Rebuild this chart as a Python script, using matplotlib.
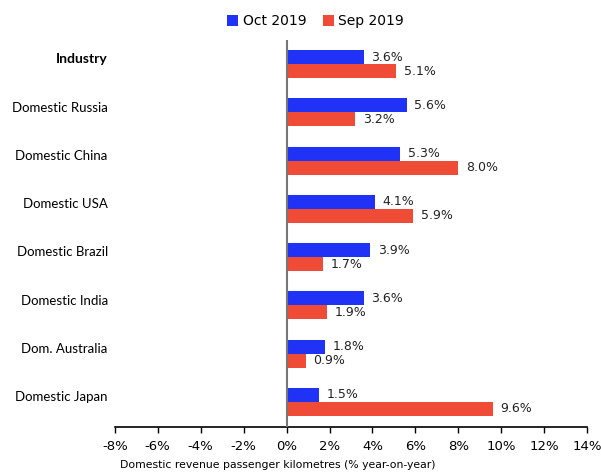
import numpy as np
import matplotlib.pyplot as plt

categories = ["Industry", "Domestic Russia", "Domestic China", "Domestic USA",
              "Domestic Brazil", "Domestic India", "Dom. Australia", "Domestic Japan"]
oct_2019 = [3.6, 5.6, 5.3, 4.1, 3.9, 3.6, 1.8, 1.5]
sep_2019 = [5.1, 3.2, 8.0, 5.9, 1.7, 1.9, 0.9, 9.6]
xticks = [-8, -6, -4, -2, 0, 2, 4, 6, 8, 10, 12, 14]

c_oct = '#1f32f5'
c_sep = '#f04b37'
h = 0.29

fig = plt.figure(figsize=(6.01, 4.75), dpi=100)
ax = fig.add_axes([0.191, 0.101, 0.786, 0.815])

y = np.arange(len(categories))
b1 = ax.barh(y - h / 2, oct_2019, height=h, color=c_oct, label='Oct 2019')
b2 = ax.barh(y + h / 2, sep_2019, height=h, color=c_sep, label='Sep 2019')

for yy, v in zip(y - h / 2, oct_2019):
    ax.text(v + 0.35, yy, f"{v:.1f}%", va='center', ha='left', fontsize=9, color='#222222')
for yy, v in zip(y + h / 2, sep_2019):
    ax.text(v + 0.35, yy, f"{v:.1f}%", va='center', ha='left', fontsize=9, color='#222222')

ax.axvline(0, color='#777777', lw=1.5, zorder=3)

ax.set_xlim(-8, 14)
ax.set_ylim(7.52, -0.5)
ax.set_xticks(xticks)
ax.set_xticklabels([f"{t}%" for t in xticks], fontsize=9.5)
ax.tick_params(axis='x', length=4, width=1, pad=5)

ax.set_yticks(y - 0.12)
ax.set_yticklabels(categories, fontsize=9.5, family='Lato')
ax.get_yticklabels()[0].set_fontweight('bold')
ax.get_yticklabels()[0].set_fontsize(10)
ax.tick_params(axis='y', length=0, pad=5)

for s in ['top', 'right', 'left']:
    ax.spines[s].set_visible(False)
ax.spines['bottom'].set_linewidth(1.2)

fig.legend(handles=[b1, b2], loc='center', bbox_to_anchor=(0.525, 0.955), ncol=2,
           frameon=False, fontsize=10, handlelength=0.8, handleheight=0.8,
           handletextpad=0.3, columnspacing=1.2)

fig.text(0.2, 0.01, "Domestic revenue passenger kilometres (% year-on-year)",
         fontsize=7.8, ha='left', va='bottom')

fig.savefig('out.png', dpi=100)
